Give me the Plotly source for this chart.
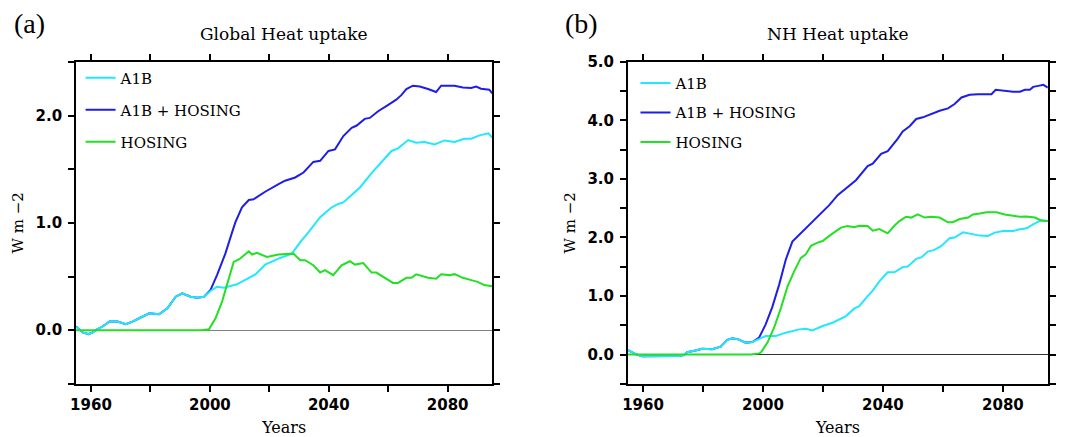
import plotly.graph_objects as go

# ---------------- Data: panel (a) Global heat uptake ----------------
a1b_a_years = [1955, 1957.2, 1959.2, 1960.6, 1962.2, 1963.9, 1966.2, 1968.9, 1971.7, 1974, 1976.2, 1979.6,
               1982.9, 1985.7, 1988.5, 1990.7, 1993.5, 1995.7, 1998, 2000.2, 2002.4, 2004.7, 2009.1, 2011.9,
               2015.3, 2018.6, 2023.1, 2027.6, 2030.4, 2033.2, 2037.1, 2041, 2043.2, 2044.9, 2048.8, 2050.5,
               2054.4, 2057.7, 2061.1, 2063.3, 2066.7, 2069.4, 2072.2, 2075.6, 2078.9, 2082.3, 2085.6, 2087.9,
               2090.7, 2093.7, 2095]
a1b_a_vals = [0.034, -0.021, -0.037, -0.02, 0.01, 0.034, 0.08, 0.08, 0.056, 0.08, 0.111, 0.157,
              0.148, 0.204, 0.312, 0.343, 0.312, 0.303, 0.312, 0.365, 0.405, 0.396, 0.427, 0.467,
              0.52, 0.61, 0.667, 0.713, 0.82, 0.914, 1.053, 1.145, 1.176, 1.19, 1.284, 1.33,
              1.463, 1.562, 1.67, 1.694, 1.772, 1.747, 1.753, 1.731, 1.768, 1.753, 1.784, 1.784,
              1.815, 1.834, 1.794]

hos_a1b_a_years = [1998, 2000.2, 2002.4, 2005.2, 2007.5, 2008.6, 2010.8, 2013.1, 2014.7, 2018.6, 2023.1,
                   2025.3, 2028.7, 2031.5, 2034.8, 2037.1, 2039.9, 2042.1, 2044.9, 2047.7, 2049.4, 2052.1,
                   2053.8, 2056.6, 2060, 2062.7, 2064.4, 2066.1, 2068.3, 2070.6, 2073.4, 2076.1, 2077.8,
                   2082.3, 2085.1, 2087.9, 2089.6, 2091.2, 2094, 2095]
hos_a1b_a_vals = [0.31, 0.374, 0.513, 0.713, 0.914, 1.006, 1.145, 1.213, 1.22, 1.29, 1.361,
                  1.393, 1.423, 1.469, 1.568, 1.578, 1.67, 1.685, 1.809, 1.886, 1.907, 1.969,
                  1.978, 2.04, 2.10, 2.148, 2.19, 2.247, 2.278, 2.27, 2.247, 2.219, 2.278,
                  2.278, 2.262, 2.256, 2.27, 2.25, 2.241, 2.206]

hos_a_years = [1955, 1997, 1999.7, 2001.9, 2004.1, 2006.4, 2008, 2009.9, 2013.1, 2014.2, 2015.8, 2019.2,
               2023.1, 2028.1, 2030.4, 2032, 2034.8, 2037.1, 2038.7, 2041.5, 2044.3, 2047.1, 2048.8,
               2051.6, 2054.4, 2056, 2060, 2061.6, 2063.3, 2066.1, 2067.8, 2069.4, 2073.4, 2076.1,
               2077.8, 2080.6, 2082.3, 2085.1, 2087.9, 2090.1, 2092.3, 2095]
hos_a_vals = [0, 0, 0.008, 0.111, 0.266, 0.48, 0.636, 0.661, 0.735, 0.705, 0.72, 0.682,
              0.705, 0.713, 0.652, 0.652, 0.605, 0.537, 0.56, 0.513, 0.605, 0.642, 0.611,
              0.626, 0.537, 0.537, 0.466, 0.44, 0.44, 0.488, 0.488, 0.52, 0.488, 0.48,
              0.52, 0.513, 0.522, 0.488, 0.466, 0.45, 0.42, 0.41]

# ---------------- Data: panel (b) NH heat uptake ----------------
a1b_b_years = [1955, 1957.5, 1959.7, 1964.1, 1967.5, 1971.9, 1973.6, 1974.7, 1977.5, 1979.7, 1983.1, 1985.9,
               1988.1, 1989.8, 1991.8, 1994.2, 1996.5, 1998.7, 2000.9, 2004.3, 2007.6, 2012.1, 2014.3,
               2016.5, 2019.9, 2023.2, 2027.7, 2030.5, 2032.1, 2034.9, 2036.6, 2038.8, 2041.6, 2043.8,
               2046.6, 2048.3, 2051.1, 2052.8, 2055, 2057.2, 2059.5, 2062.2, 2063.9, 2066.7, 2069.5,
               2072.3, 2075, 2077.3, 2080.1, 2083.4, 2085.7, 2087.9, 2090.1, 2092.9, 2095]
a1b_b_vals = [0.075, 0.007, -0.03, -0.03, -0.02, -0.025, -0.01, 0.04, 0.07, 0.1, 0.09, 0.136,
              0.25, 0.278, 0.26, 0.204, 0.215, 0.26, 0.317, 0.317, 0.374, 0.43, 0.44,
              0.413, 0.487, 0.543, 0.657, 0.788, 0.827, 0.997, 1.093, 1.251, 1.404, 1.404,
              1.494, 1.505, 1.636, 1.659, 1.76, 1.788, 1.857, 1.986, 1.998, 2.088, 2.06,
              2.032, 2.027, 2.083, 2.11, 2.11, 2.14, 2.156, 2.224, 2.299, 2.28]

hos_a1b_b_years = [1996.5, 1998.7, 2000.9, 2003.1, 2005.4, 2007.6, 2009.8, 2012.6, 2015.4, 2018.2, 2019.9,
                   2022.1, 2024.9, 2028.2, 2031, 2034.9, 2036.6, 2039.4, 2041.6, 2044.9, 2046.6, 2048.9,
                   2051.1, 2053.3, 2056.1, 2058.9, 2061.7, 2063.9, 2066.2, 2068.9, 2071.7, 2074.5,
                   2076.2, 2077.6, 2080.1, 2083.4, 2085.7, 2087.3, 2089, 2090.1, 2091.8, 2093.5, 2095]
hos_a1b_b_vals = [0.215, 0.289, 0.516, 0.81, 1.195, 1.62, 1.93, 2.071, 2.224, 2.355, 2.44,
                  2.553, 2.723, 2.864, 2.978, 3.22, 3.26, 3.43, 3.475, 3.684, 3.81, 3.90,
                  4.024, 4.053, 4.11, 4.166, 4.206, 4.28, 4.392, 4.437, 4.449, 4.449,
                  4.449, 4.523, 4.505, 4.49, 4.49, 4.523, 4.523, 4.573, 4.59, 4.607, 4.562]

hos_b_years = [1955, 1996, 1998.7, 1999.3, 2001.5, 2003.7, 2006, 2008.2, 2010.4, 2012.6, 2014.3, 2016,
               2018.2, 2019.9, 2022.1, 2024.3, 2026, 2028.2, 2030.5, 2032.1, 2034.9, 2036.6, 2038.8,
               2041.6, 2043.8, 2045.5, 2047.7, 2049.4, 2051.6, 2053.9, 2056.1, 2058.9, 2061.7, 2063.3,
               2065.6, 2068.4, 2070, 2072.3, 2074.5, 2077.9, 2080.6, 2083.4, 2085.7, 2087.9, 2090.7,
               2092.9, 2095]
hos_b_vals = [0, 0, 0.02, 0.034, 0.204, 0.458, 0.798, 1.166, 1.421, 1.647, 1.715, 1.857,
              1.913, 1.94, 2.027, 2.11, 2.168, 2.196, 2.174, 2.2, 2.196, 2.117, 2.145,
              2.071, 2.2, 2.28, 2.355, 2.34, 2.394, 2.34, 2.355, 2.34, 2.26, 2.26,
              2.315, 2.34, 2.394, 2.41, 2.43, 2.43, 2.394, 2.37, 2.355, 2.36, 2.34,
              2.286, 2.28]

series_names = ["A1B", "A1B + HOSING", "HOSING"]
x_tick_vals = [1960, 1980, 2000, 2020, 2040, 2060, 2080]
x_tick_text = ["1960", "", "2000", "", "2040", "", "2080"]
ya_tick_vals = [-0.5, 0.0, 0.5, 1.0, 1.5, 2.0, 2.5]
ya_tick_text = ["", "0.0", "", "1.0", "", "2.0", ""]
yb_tick_vals = [-0.5, 0.0, 0.5, 1.0, 1.5, 2.0, 2.5, 3.0, 3.5, 4.0, 4.5, 5.0]
yb_tick_text = ["", "0.0", "", "1.0", "", "2.0", "", "3.0", "", "4.0", "", "5.0"]
panel_titles = ["Global Heat uptake", "NH Heat uptake"]
panel_tags = ["(a)", "(b)"]

# Before hosing starts, A1B + HOSING is identical to A1B
def with_prefix(base_years, base_vals, years, vals):
    pre = [(y, v) for y, v in zip(base_years, base_vals) if y < years[0]]
    return [p[0] for p in pre] + list(years), [p[1] for p in pre] + list(vals)

blue_a_x, blue_a_y = with_prefix(a1b_a_years, a1b_a_vals, hos_a1b_a_years, hos_a1b_a_vals)
blue_b_x, blue_b_y = with_prefix(a1b_b_years, a1b_b_vals, hos_a1b_b_years, hos_a1b_b_vals)

C_CYAN = "#22E8FF"
C_BLUE = "#1E1EE6"
C_GREEN = "#22E022"

SERIF = "DejaVu Serif"
SANS = "DejaVu Sans"

fig = go.Figure()

panels = [
    dict(xa="x", ya="y", leg="legend",
         data=[(series_names[1], blue_a_x, blue_a_y, C_BLUE, 2),
               (series_names[0], a1b_a_years, a1b_a_vals, C_CYAN, 1),
               (series_names[2], hos_a_years, hos_a_vals, C_GREEN, 3)]),
    dict(xa="x2", ya="y2", leg="legend2",
         data=[(series_names[1], blue_b_x, blue_b_y, C_BLUE, 2),
               (series_names[0], a1b_b_years, a1b_b_vals, C_CYAN, 1),
               (series_names[2], hos_b_years, hos_b_vals, C_GREEN, 3)]),
]
for p in panels:
    for name, xs, ys, col, rank in p["data"]:
        fig.add_trace(go.Scatter(
            x=xs, y=ys, mode="lines", name=name,
            line=dict(color=col, width=2),
            xaxis=p["xa"], yaxis=p["ya"], legend=p["leg"],
            legendgroup=f"{p['leg']}_{rank}", legendrank=rank,
        ))

W, H = 1078, 437
def px_x(v):
    return v / W
def px_y(v):
    return 1 - v / H

tickfont = dict(family=SANS, size=15, color="black", weight="bold")
PLOT_TOP, PLOT_BOTTOM = 54.0, 382.7

def xaxis(dom, anchor):
    return dict(domain=dom, range=[1955, 2095], tickmode="array", tickvals=x_tick_vals,
                ticktext=x_tick_text, ticks="outside", ticklen=6, tickwidth=2, tickcolor="black",
                showline=True, linewidth=2, linecolor="black", mirror="ticks",
                showgrid=False, zeroline=False, tickfont=tickfont, anchor=anchor,
                title=dict(text="Years", font=dict(family=SERIF, size=16, color="black"), standoff=9))

def yaxis(rng, tv, tt, anchor, zc):
    return dict(domain=[px_y(PLOT_BOTTOM), px_y(PLOT_TOP)], range=rng, tickmode="array", tickvals=tv,
                ticktext=tt, ticks="outside", ticklen=6, tickwidth=2, tickcolor="black",
                showline=True, linewidth=2, linecolor="black", mirror="ticks",
                showgrid=False, zeroline=True, zerolinecolor=zc, zerolinewidth=1,
                tickfont=tickfont, anchor=anchor, ticklabelstandoff=3,
                title=dict(text="W m −2", font=dict(family=SERIF, size=15, color="black"), standoff=8))

legend_common = dict(bgcolor="rgba(0,0,0,0)", font=dict(family=SERIF, size=15, color="black"),
                     xanchor="left", yanchor="top", itemwidth=30, traceorder="grouped")

fig.update_layout(
    width=W, height=H,
    margin=dict(l=0, r=0, t=0, b=0),
    paper_bgcolor="white", plot_bgcolor="white",
    xaxis=xaxis([px_x(70.5), px_x(489)], "y"),
    yaxis=yaxis([-0.5, 2.5], ya_tick_vals, ya_tick_text, "x", "#808080"),
    xaxis2=xaxis([px_x(625.5), px_x(1047.7)], "y2"),
    yaxis2=yaxis([-0.5, 5.0], yb_tick_vals, yb_tick_text, "x2", "#303030"),
    legend=legend_common | dict(x=px_x(75), y=px_y(53.5), tracegroupgap=9.5),
    legend2=legend_common | dict(x=px_x(633), y=px_y(59), tracegroupgap=7),
    showlegend=True,
)

annots = []
for title, cx in zip(panel_titles, [280, 836.5]):
    annots.append(dict(text=title, x=px_x(cx), y=px_y(26), xref="paper", yref="paper",
                       showarrow=False, xanchor="center", yanchor="middle",
                       font=dict(family=SERIF, size=17, color="black")))
for tag, lx in zip(panel_tags, [6, 560]):
    annots.append(dict(text=tag, x=px_x(lx), y=px_y(15), xref="paper", yref="paper",
                       showarrow=False, xanchor="left", yanchor="middle",
                       font=dict(family="Liberation Serif", size=28, color="black")))
fig.update_layout(annotations=annots)

# Remove the default page margin so the 1078x437 figure fills the window exactly
fig.write_html("out.html",
               config={"displayModeBar": False},
               post_script="document.body.style.margin='0';"
                           "document.documentElement.style.overflow='hidden';")
